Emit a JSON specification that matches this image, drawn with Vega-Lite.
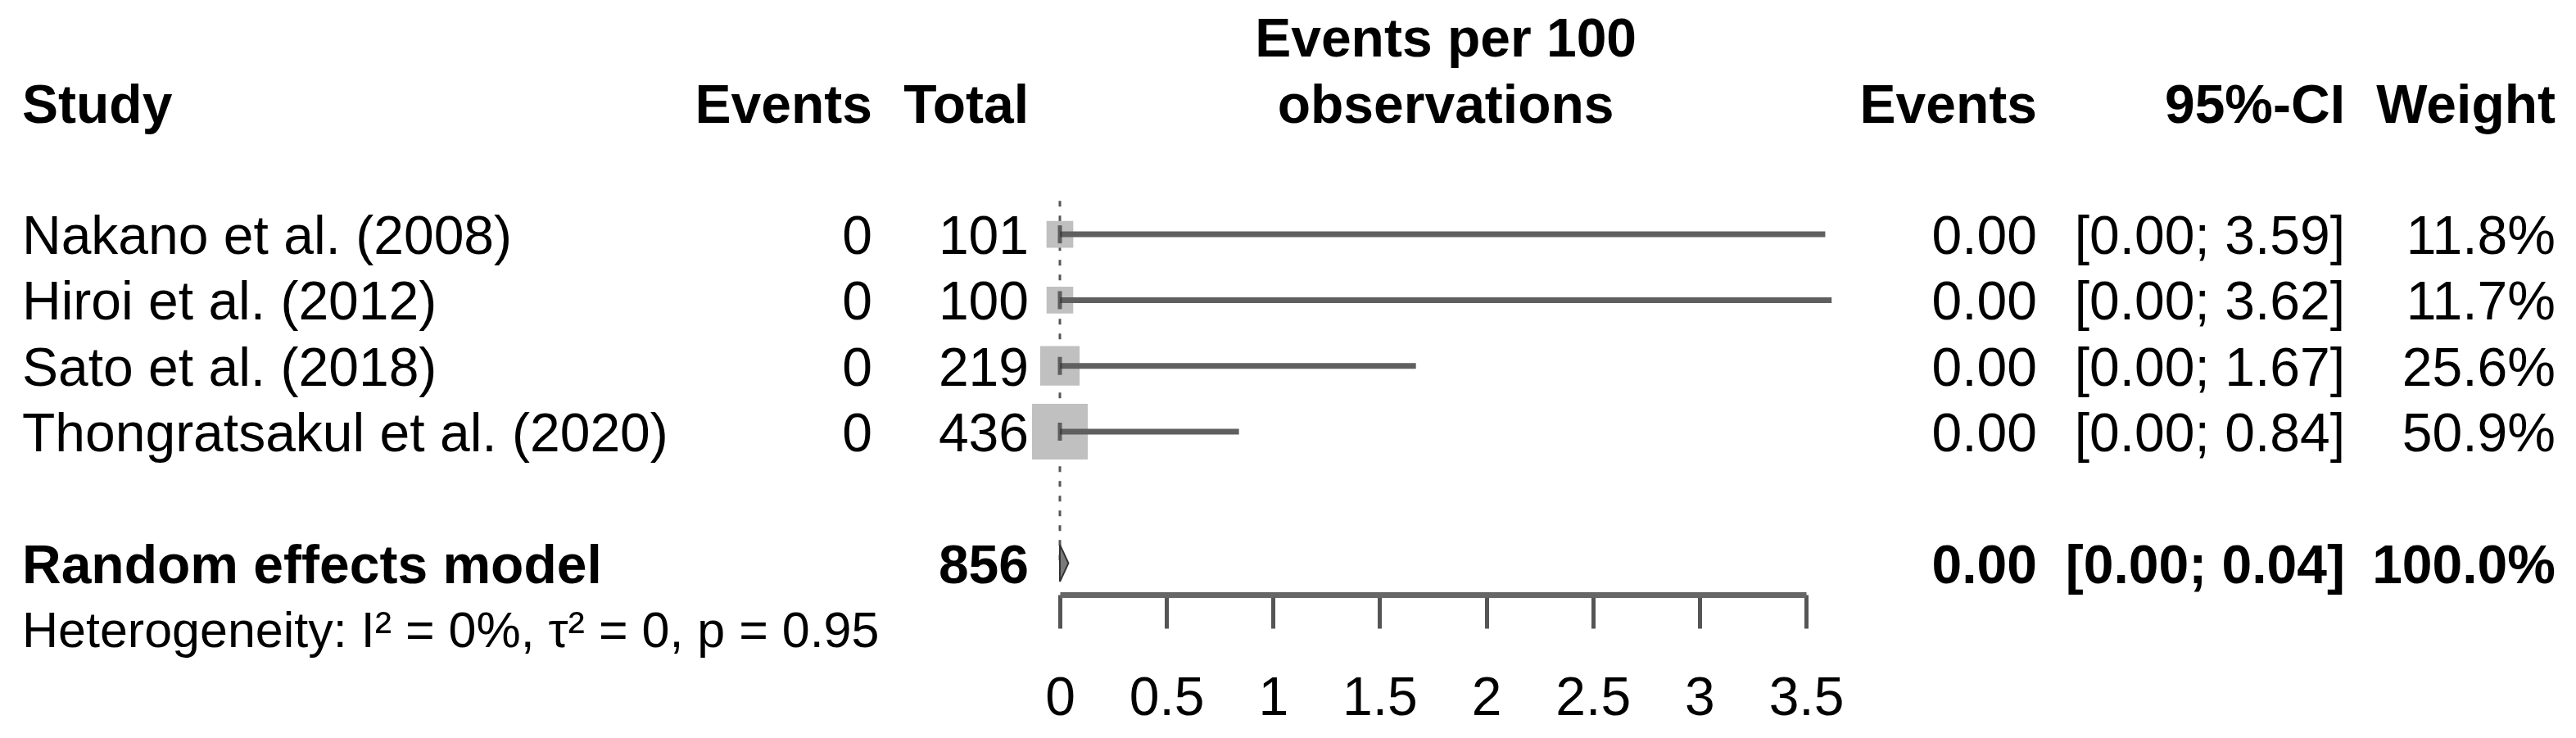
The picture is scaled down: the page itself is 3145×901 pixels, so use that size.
{
  "$schema": "https://vega.github.io/schema/vega-lite/v6.json",
  "background": "white",
  "padding": {"left": 27, "right": 25, "top": 0, "bottom": 0},
  "spacing": 0,
  "bounds": "flush",
  "config": {"view": {"stroke": null}, "text": {"font": "Liberation Sans", "color": "black"}},
  "datasets": {
    "table": [
      {"row": 1, "study": "Study", "events": "Events", "total": "Total", "rate": "Events", "ci": "95%-CI", "weight": "Weight", "bold": true},
      {"row": 3, "study": "Nakano et al. (2008)", "events": "0", "total": "101", "rate": "0.00", "ci": "[0.00; 3.59]", "weight": "11.8%", "bold": false},
      {"row": 4, "study": "Hiroi et al. (2012)", "events": "0", "total": "100", "rate": "0.00", "ci": "[0.00; 3.62]", "weight": "11.7%", "bold": false},
      {"row": 5, "study": "Sato et al. (2018)", "events": "0", "total": "219", "rate": "0.00", "ci": "[0.00; 1.67]", "weight": "25.6%", "bold": false},
      {"row": 6, "study": "Thongratsakul et al. (2020)", "events": "0", "total": "436", "rate": "0.00", "ci": "[0.00; 0.84]", "weight": "50.9%", "bold": false},
      {"row": 8, "study": "Random effects model", "events": "", "total": "856", "rate": "0.00", "ci": "[0.00; 0.04]", "weight": "100.0%", "bold": true}
    ],
    "het": [
      {"row": 9, "text": "Heterogeneity: I² = 0%, τ² = 0, p = 0.95"}
    ],
    "studies": [
      {"row": 3, "est": 0, "lower": 0, "upper": 3.59, "w": 11.8},
      {"row": 4, "est": 0, "lower": 0, "upper": 3.62, "w": 11.7},
      {"row": 5, "est": 0, "lower": 0, "upper": 1.67, "w": 25.6},
      {"row": 6, "est": 0, "lower": 0, "upper": 0.84, "w": 50.9}
    ],
    "model": [
      {"row": 8, "est": 0, "lower": 0, "upper": 0.04}
    ],
    "forestHead": [
      {"row": 0, "text": "Events per 100"},
      {"row": 1, "text": "observations"}
    ]
  },
  "hconcat": [
    {
      "width": 700, "height": 901,
      "layer": [
        {
          "data": {"name": "table"},
          "mark": {"type": "text", "align": "left", "baseline": "middle", "dy": 4, "x": 0, "fontSize": 66, "fontWeight": {"expr": "datum.bold ? 'bold' : 'normal'"}},
          "encoding": {
            "y": {"field": "row", "type": "quantitative", "scale": {"domain": [-0.563, 10.658], "reverse": true, "nice": false, "zero": false}, "axis": null},
            "text": {"field": "study"}
          }
        },
        {
          "data": {"name": "het"},
          "mark": {"type": "text", "align": "left", "baseline": "middle", "dy": 4, "x": 0, "fontSize": 61},
          "encoding": {
            "y": {"field": "row", "type": "quantitative"},
            "text": {"field": "text"}
          }
        }
      ]
    },
    {
      "width": 338, "height": 901,
      "data": {"name": "table"},
      "mark": {"type": "text", "align": "right", "baseline": "middle", "dy": 4, "x": "width", "fontSize": 66, "fontWeight": {"expr": "datum.bold ? 'bold' : 'normal'"}},
      "encoding": {
        "y": {"field": "row", "type": "quantitative", "scale": {"domain": [-0.563, 10.658], "reverse": true, "nice": false, "zero": false}, "axis": null},
        "text": {"field": "events"}
      }
    },
    {
      "width": 229, "height": 901,
      "data": {"name": "table"},
      "mark": {"type": "text", "align": "right", "baseline": "middle", "dy": 4, "dx": -38, "x": "width", "fontSize": 66, "fontWeight": {"expr": "datum.bold ? 'bold' : 'normal'"}},
      "encoding": {
        "y": {"field": "row", "type": "quantitative", "scale": {"domain": [-0.563, 10.658], "reverse": true, "nice": false, "zero": false}, "axis": null},
        "text": {"field": "total"}
      }
    },
    {
      "width": 911, "height": 726,
      "layer": [
        {
          "data": {"name": "model"},
          "mark": {"type": "rule", "strokeDash": [7, 11], "strokeWidth": 3, "color": "#555555"},
          "encoding": {
            "x": {"field": "est", "type": "quantitative", "scale": {"domain": [0, 3.5], "nice": false, "zero": false},
              "axis": {"values": [0, 0.5, 1, 1.5, 2, 2.5, 3, 3.5], "format": "~g", "title": null, "grid": false, "orient": "bottom",
                "domainColor": "#666666", "domainWidth": 7, "tickColor": "#555555", "tickWidth": 5, "tickSize": 41,
                "labelFont": "Liberation Sans", "labelFontSize": 66, "labelColor": "black", "labelPadding": 85,
                "labelBaseline": "middle", "labelFlush": false, "labelOverlap": false}},
            "y": {"datum": 2.49, "type": "quantitative", "scale": {"domain": [-0.563, 8.478], "reverse": true, "nice": false, "zero": false}, "axis": null},
            "y2": {"datum": 8.0}
          }
        },
        {
          "data": {"name": "studies"},
          "mark": {"type": "square", "filled": true, "color": "#c0c0c0", "opacity": 1, "strokeWidth": 0},
          "encoding": {
            "x": {"field": "est", "type": "quantitative"},
            "y": {"field": "row", "type": "quantitative"},
            "size": {"field": "w", "type": "quantitative", "scale": {"domain": [0, 100], "range": [0, 9080], "zero": true}, "legend": null}
          }
        },
        {
          "data": {"name": "studies"},
          "mark": {"type": "rule", "color": "#5f5f5f", "strokeWidth": 7},
          "encoding": {
            "x": {"field": "lower", "type": "quantitative"},
            "x2": {"field": "upper"},
            "y": {"field": "row", "type": "quantitative"}
          }
        },
        {
          "data": {"name": "studies"},
          "mark": {"type": "tick", "orient": "vertical", "color": "#333333", "size": 22, "thickness": 5},
          "encoding": {
            "x": {"field": "est", "type": "quantitative"},
            "y": {"field": "row", "type": "quantitative"}
          }
        },
        {
          "data": {"name": "model"},
          "transform": [
            {"fold": ["est", "upper"], "as": ["vertex", "xv"]},
            {"calculate": "datum.vertex == 'est' ? datum.row - 0.28 : datum.row", "as": "ytop"},
            {"calculate": "datum.vertex == 'est' ? datum.row + 0.28 : datum.row", "as": "ybot"}
          ],
          "mark": {"type": "area", "color": "#7a7a7a", "stroke": "#333333", "strokeWidth": 2, "opacity": 1},
          "encoding": {
            "x": {"field": "xv", "type": "quantitative"},
            "y": {"field": "ytop", "type": "quantitative"},
            "y2": {"field": "ybot"}
          }
        },
        {
          "data": {"name": "forestHead"},
          "mark": {"type": "text", "align": "center", "baseline": "middle", "dy": 4, "fontSize": 66, "fontWeight": "bold"},
          "encoding": {
            "x": {"datum": 1.81, "type": "quantitative"},
            "y": {"field": "row", "type": "quantitative"},
            "text": {"field": "text"}
          }
        }
      ]
    },
    {
      "width": 282, "height": 901,
      "data": {"name": "table"},
      "mark": {"type": "text", "align": "right", "baseline": "middle", "dy": 4, "x": "width", "fontSize": 66, "fontWeight": {"expr": "datum.bold ? 'bold' : 'normal'"}},
      "encoding": {
        "y": {"field": "row", "type": "quantitative", "scale": {"domain": [-0.563, 10.658], "reverse": true, "nice": false, "zero": false}, "axis": null},
        "text": {"field": "rate"}
      }
    },
    {
      "width": 376, "height": 901,
      "data": {"name": "table"},
      "mark": {"type": "text", "align": "right", "baseline": "middle", "dy": 4, "x": "width", "fontSize": 66, "fontWeight": {"expr": "datum.bold ? 'bold' : 'normal'"}},
      "encoding": {
        "y": {"field": "row", "type": "quantitative", "scale": {"domain": [-0.563, 10.658], "reverse": true, "nice": false, "zero": false}, "axis": null},
        "text": {"field": "ci"}
      }
    },
    {
      "width": 257, "height": 901,
      "data": {"name": "table"},
      "mark": {"type": "text", "align": "right", "baseline": "middle", "dy": 4, "x": "width", "fontSize": 66, "fontWeight": {"expr": "datum.bold ? 'bold' : 'normal'"}},
      "encoding": {
        "y": {"field": "row", "type": "quantitative", "scale": {"domain": [-0.563, 10.658], "reverse": true, "nice": false, "zero": false}, "axis": null},
        "text": {"field": "weight"}
      }
    }
  ]
}
